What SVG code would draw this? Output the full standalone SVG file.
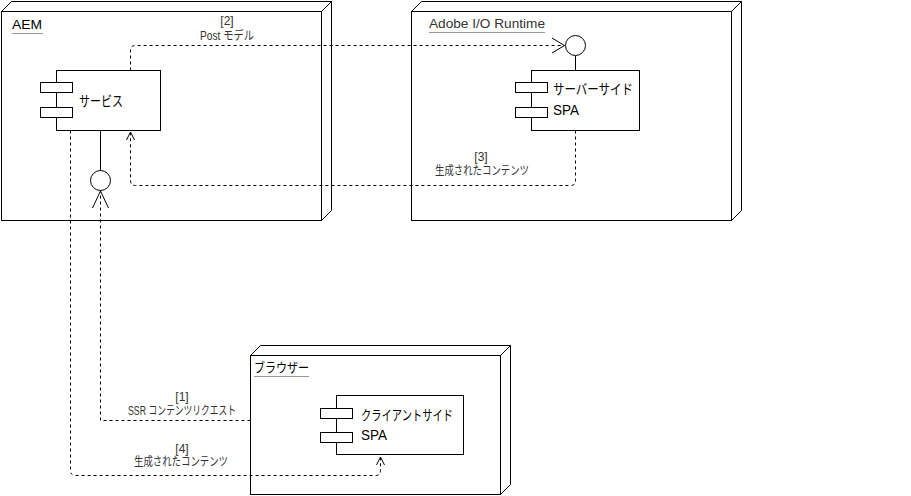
<svg xmlns="http://www.w3.org/2000/svg" width="911" height="496" viewBox="0 0 911 496">
<style>
.node{fill:#fff;stroke:#000;stroke-width:1}
.edge{fill:none;stroke:#000;stroke-width:1}
.comp{fill:#fff;stroke:#000;stroke-width:1}
.dash{fill:none;stroke:#000;stroke-width:1;stroke-dasharray:3,3}
.line{fill:none;stroke:#000;stroke-width:1}
.ttl{font-family:"Liberation Sans","Noto Sans CJK JP",sans-serif;font-size:13px;fill:#000}
.ul{stroke:#999;stroke-width:1}
.ctext{font-family:"Liberation Sans","Noto Sans CJK JP",sans-serif;font-size:14px;fill:#000}
.lbl{font-family:"Liberation Sans","Noto Sans CJK JP",sans-serif;font-size:12px;fill:#333;text-anchor:middle}
</style>
<rect width="911" height="496" fill="#fff"/>

<g id="aem">
  <rect class="node" x="1.5" y="11.5" width="320" height="209"/>
  <path class="edge" d="M1.5 11.5 L11.5 1.5 L331.5 1.5 L331.5 210.5 L321.5 220.5 M331.5 1.5 L321.5 11.5"/>
  <text class="ttl" x="12" y="29" textLength="30" lengthAdjust="spacingAndGlyphs">AEM</text>
  <line class="ul" x1="12" y1="33.5" x2="43" y2="33.5"/>
</g>

<g id="adobe">
  <rect class="node" x="411.5" y="11.5" width="320" height="209"/>
  <path class="edge" d="M411.5 11.5 L421.5 1.5 L741.5 1.5 L741.5 210.5 L731.5 220.5 M741.5 1.5 L731.5 11.5"/>
  <text class="ttl" x="429" y="28" fill="#333" style="fill:#333" textLength="116" lengthAdjust="spacingAndGlyphs">Adobe I/O Runtime</text>
  <line class="ul" x1="429" y1="32.5" x2="545" y2="32.5"/>
</g>

<g id="browser">
  <rect class="node" x="250.5" y="355.5" width="250" height="139"/>
  <path class="edge" d="M250.5 355.5 L260.5 345.5 L510.5 345.5 L510.5 484.5 L500.5 494.5 M510.5 345.5 L500.5 355.5"/>
  <text class="ttl" x="254" y="372" textLength="55" lengthAdjust="spacingAndGlyphs">ブラウザー</text>
  <line class="ul" x1="254" y1="376.5" x2="309" y2="376.5"/>
</g>

<g id="service">
  <rect class="comp" x="56.5" y="70.5" width="104" height="60"/>
  <rect class="comp" x="40.5" y="82.5" width="32" height="10"/>
  <rect class="comp" x="40.5" y="107.5" width="32" height="10"/>
  <text class="ctext" x="79" y="106" textLength="44" lengthAdjust="spacingAndGlyphs">サービス</text>
</g>

<g id="aem-interface">
  <line class="line" x1="100.5" y1="130.5" x2="100.5" y2="170.5"/>
  <circle class="comp" cx="100.5" cy="180.5" r="10"/>
</g>

<g id="server-spa">
  <rect class="comp" x="531.5" y="70.5" width="108" height="60"/>
  <rect class="comp" x="515.5" y="82.5" width="32" height="10"/>
  <rect class="comp" x="515.5" y="107.5" width="32" height="10"/>
  <text class="ctext" x="553" y="94" textLength="80" lengthAdjust="spacingAndGlyphs">サーバーサイド</text>
  <text class="ctext" x="553" y="115" textLength="26" lengthAdjust="spacingAndGlyphs">SPA</text>
</g>

<g id="adobe-interface">
  <line class="line" x1="575.5" y1="55.5" x2="575.5" y2="70.5"/>
  <circle class="comp" cx="575.5" cy="45.5" r="10"/>
</g>

<g id="client-spa">
  <rect class="comp" x="336.5" y="395.5" width="127" height="59"/>
  <rect class="comp" x="320.5" y="408.5" width="32" height="10"/>
  <rect class="comp" x="320.5" y="432.5" width="32" height="10"/>
  <text class="ctext" x="361" y="420" textLength="92" lengthAdjust="spacingAndGlyphs">クライアントサイド</text>
  <text class="ctext" x="361" y="440" textLength="26" lengthAdjust="spacingAndGlyphs">SPA</text>
</g>

<g id="connectors">
  <!-- [1] -->
  <path class="dash" d="M250.5 420.5 L100.5 420.5 L100.5 191"/>
  <path class="line" d="M92.5 208 L100.5 191 L108.5 208"/>
  <text class="lbl" x="182" y="401">[1]</text>
  <text class="lbl" x="182" y="415" textLength="108" lengthAdjust="spacingAndGlyphs">SSR コンテンツリクエスト</text>
  <!-- [2] -->
  <path class="dash" d="M130.5 70.5 L130.5 50.5 Q130.5 45.5 135.5 45.5 L564.5 45.5"/>
  <path class="line" d="M552 38 L564.5 45.5 L552 53"/>
  <text class="lbl" x="227" y="25">[2]</text>
  <text class="lbl" x="227" y="40" textLength="54" lengthAdjust="spacingAndGlyphs">Post モデル</text>
  <!-- [3] -->
  <path class="dash" d="M575.5 130.5 L575.5 180.5 Q575.5 185.5 570.5 185.5 L135.5 185.5 Q130.5 185.5 130.5 180.5 L130.5 132"/>
  <path class="line" d="M126.5 140 L130.5 132 L134.5 140"/>
  <text class="lbl" x="481" y="161">[3]</text>
  <text class="lbl" x="482" y="175" textLength="94" lengthAdjust="spacingAndGlyphs">生成されたコンテンツ</text>
  <!-- [4] -->
  <path class="dash" d="M70.5 130.5 L70.5 470.5 Q70.5 475.5 75.5 475.5 L375.5 475.5 Q380.5 475.5 380.5 470.5 L380.5 457"/>
  <path class="line" d="M376.5 465 L380.5 457 L384.5 465"/>
  <text class="lbl" x="182" y="453">[4]</text>
  <text class="lbl" x="181" y="466" textLength="94" lengthAdjust="spacingAndGlyphs">生成されたコンテンツ</text>
</g>
</svg>
